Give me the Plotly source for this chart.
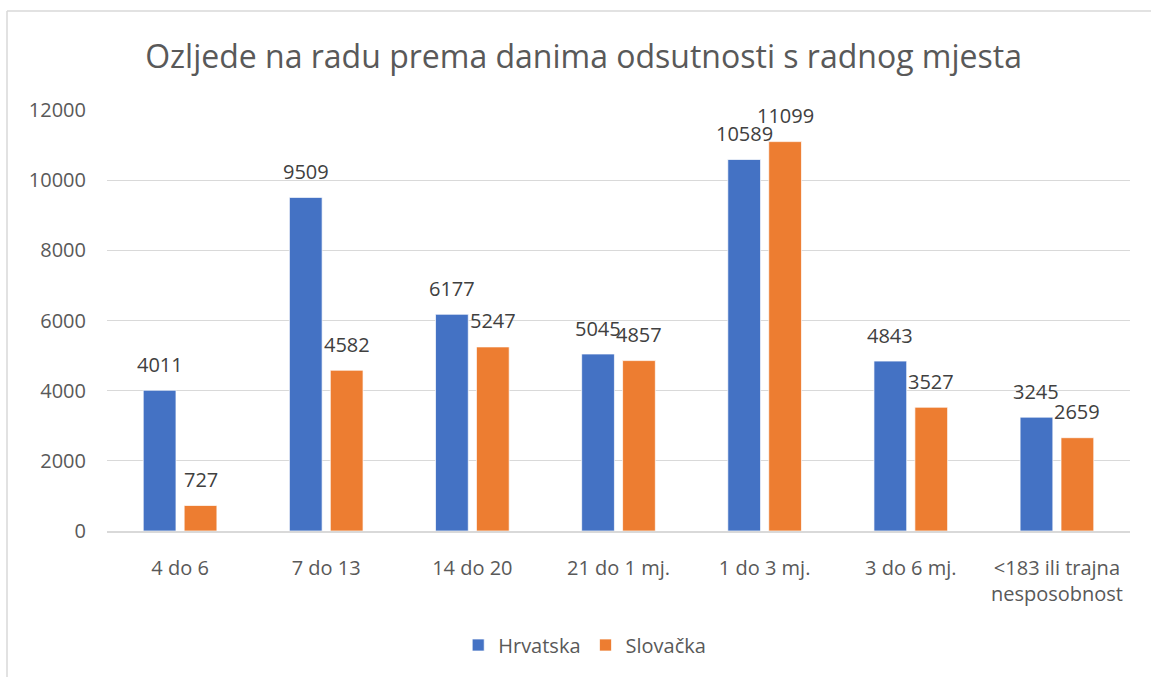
import plotly.graph_objects as go

categories = ["4 do 6", "7 do 13", "14 do 20", "21 do 1 mj.", "1 do 3 mj.", "3 do 6 mj.",
              "<183 ili trajna<br>nesposobnost"]
hrvatska = [4011, 9509, 6177, 5045, 10589, 4843, 3245]
slovacka = [727, 4582, 5247, 4857, 11099, 3527, 2659]
series_names = ["Hrvatska", "Slovačka"]
title_text = "Ozljede na radu prema danima odsutnosti s radnog mjesta"
y_ticks = [0, 2000, 4000, 6000, 8000, 10000, 12000]

BLUE = "#4472C4"
ORANGE = "#ED7D31"
FONT = "Open Sans"

W, H = 1151, 677
ML, MR, MT, MB = 107, 21, 110, 146
BARGAP = 0.44
BARGROUPGAP = 0.2

fig = go.Figure()
for name, vals, col in [(series_names[0], hrvatska, BLUE), (series_names[1], slovacka, ORANGE)]:
    fig.add_trace(go.Bar(
        x=categories, y=vals, name=name,
        marker=dict(color=col, line=dict(color="rgba(255,255,255,0.7)", width=1)),
    ))

# data labels (centered above each bar)
plot_w = W - ML - MR
plot_h = H - MT - MB
cat_w = plot_w / len(categories)
slot = cat_w * (1 - BARGAP) / 2
offsets = [-slot / 2, slot / 2]
annotations = []
for k, vals in enumerate([hrvatska, slovacka]):
    for c, v in zip(categories, vals):
        annotations.append(dict(
            x=c, y=v, xref="x", yref="y", text=str(v), showarrow=False,
            xshift=offsets[k], yshift=26, yanchor="middle", xanchor="center",
            font=dict(family=FONT, size=20, color="#404040"),
        ))

fig.update_layout(
    width=W, height=H,
    margin=dict(l=ML, r=MR, t=MT, b=MB),
    paper_bgcolor="white", plot_bgcolor="white",
    barmode="group", bargap=BARGAP, bargroupgap=BARGROUPGAP,
    title=dict(text=title_text, x=0.507, xref="container", xanchor="center",
               y=1 - 57 / H, yref="container", yanchor="middle",
               font=dict(family=FONT, size=32, color="#595959")),
    font=dict(family=FONT, size=20, color="#595959"),
    legend=dict(orientation="h", x=0.508, xref="container", xanchor="center",
                y=1 - 645 / H, yref="container", yanchor="middle",
                font=dict(family=FONT, size=20, color="#595959"),
                itemwidth=30, traceorder="normal"),
    annotations=annotations,
    shapes=[
        dict(type="line", xref="paper", yref="paper",
             x0=(7 - ML) / plot_w, x1=(W - ML) / plot_w,
             y0=(H - MB - 11) / plot_h, y1=(H - MB - 11) / plot_h,
             line=dict(color="#d9d9d9", width=1.5)),
        dict(type="line", xref="paper", yref="paper",
             x0=(7 - ML) / plot_w, x1=(7 - ML) / plot_w,
             y0=(H - MB - 11) / plot_h, y1=-MB / plot_h,
             line=dict(color="#d9d9d9", width=1.5)),
    ],
)
fig.update_yaxes(range=[0, 12000], tickvals=y_ticks, tickformat="d", showgrid=True,
                 gridcolor="#d9d9d9", gridwidth=1, zeroline=False, showline=False, ticks="",
                 ticklabelstandoff=20, tickfont=dict(family=FONT, size=20, color="#595959"))
fig.update_xaxes(showline=True, linecolor="#d9d9d9", linewidth=1.5, ticks="",
                 ticklabelstandoff=18, tickfont=dict(family=FONT, size=20, color="#595959"),
                 tickangle=0)

fig.write_html("out.html", config={"displayModeBar": False},
               post_script="document.body.style.margin='0';")
